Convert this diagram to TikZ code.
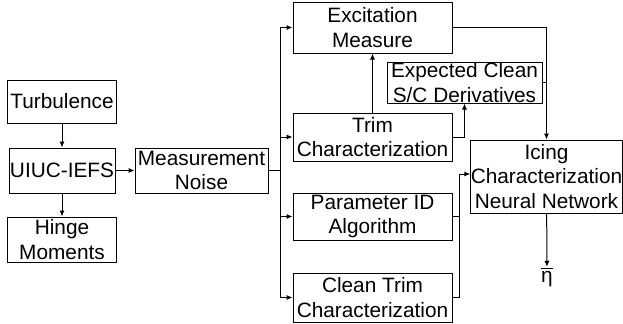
\documentclass[tikz,border=0pt]{standalone}
\usepackage{fontspec}
\setmainfont{Liberation Sans}
\usepackage{tikz}
\usetikzlibrary{calc}
\usetikzlibrary{arrows.meta}
\tikzset{blk/.style={draw, rectangle, align=center, inner sep=0pt, minimum width=79.5pt, minimum height=22.5pt}}
\tikzset{arr/.style={-{Latex[length=3pt,width=2.6pt]}}}

\begin{document}
\begin{tikzpicture}[x=0.5pt, y=-0.5pt, line width=0.5pt, font=\fontsize{10.4}{12.2}\selectfont]
\useasboundingbox (0,0) rectangle (623,323);
\node[blk, minimum width=54pt, minimum height=21.5pt] (turb) at (62,101.5) {Turbulence};
\node[blk, minimum width=53pt] (uiuc) at (62,170.5) {UIUC-IEFS};
\node[blk, minimum width=54pt] (hinge) at (62,239.5) {Hinge\\Moments};
\node[blk, minimum width=66.5pt] (noise) at (201.5,170.5) {Measurement\\Noise};
\node[blk, minimum height=25.5pt] (excite) at (372.5,27.5) {Excitation\\Measure};
\node[blk, minimum width=77.5pt, minimum height=20.5pt] (expect) at (464.5,82.5) {Expected Clean\\S/C Derivatives};
\node[blk, minimum height=24pt] (trim) at (372.5,137) {Trim\\Characterization};
\node[blk, minimum height=23.5pt] (param) at (372.5,216.5) {Parameter ID\\Algorithm};
\node[blk, minimum height=24.5pt] (clean) at (372.5,297.5) {Clean Trim\\Characterization};
\node[blk, minimum width=75.5pt, minimum height=36.5pt] (icing) at (546.5,176.5) {Icing\\Characterization\\Neural Network};
\node[inner sep=0pt] (eta) at (547,277) {$\overline{\mbox{η}}$};
\coordinate (split) at (280,170.5);
\coordinate (merge) at (459,174);

\draw[arr] (turb) -- (uiuc);
\draw[arr] (uiuc) -- (hinge);
\draw[arr] (uiuc) -- (noise);
\draw (noise) -- (split);
\draw[arr] (split) |- (excite);
\draw[arr] (split) |- (trim);
\draw[arr] (split) |- (param);
\draw[arr] (split) |- (clean);
\draw[arr] (trim) -- (excite);
\draw[arr] (trim) -| (expect);
\draw[arr] (excite) -| (icing);
\draw (expect) -- (expect -| icing);
\draw (clean) -| (merge);
\draw (param) -- (param -| merge);
\draw[arr] (merge) -- (merge -| icing.west);
\draw[arr] (icing) -- (eta);
\end{tikzpicture}
\end{document}
